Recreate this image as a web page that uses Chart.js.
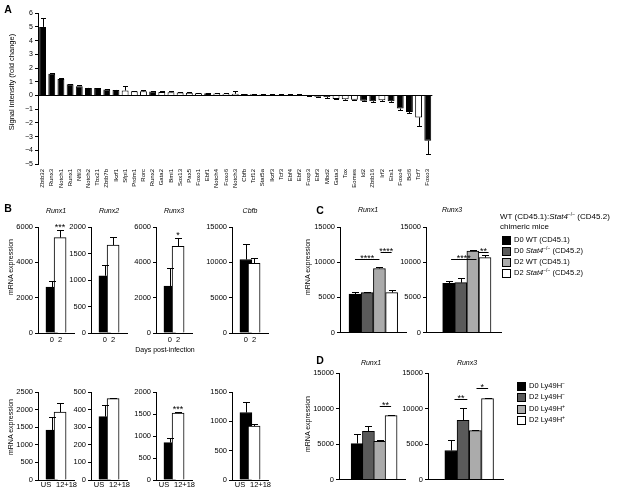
<!DOCTYPE html>
<html>
<head>
<meta charset="utf-8">
<script src="https://cdn.jsdelivr.net/npm/chart.js@4.4.0/dist/chart.umd.min.js"></script>
<style>
  body { margin: 0; width: 625px; height: 491px; position: relative; overflow: hidden; background: #fff;
         font-family: "Liberation Sans", Arial, sans-serif; color: #000; }
  canvas { position: absolute; }
  .t { position: absolute; white-space: nowrap; font-size: 7.5px; line-height: 1; }
  .c { transform: translate(-50%, -50%); }
  .r { transform: translate(-50%, -50%) rotate(-90deg); }
  .sw { position: absolute; width: 7px; height: 7px; border: 1px solid #000; }
  sup { font-size: 5px; vertical-align: 3px; line-height: 0; }
</style>
</head>
<body>
<script>
// ---- panel A: microarray fold change ----
const geneLabels = ['Zbtb32','Runx3','Notch1','Runx1','Nfil3','Notch2','Tbx21','Zbtb7b','Ikzf1','Sfpi1',
  'Prdm1','Rorc','Runx2','Gata2','Bmi1','Sox13','Pax5','Foxo1','Ebf1','Notch4','Foxo6','Notch3','Cbfb',
  'Tcf12','Stat5a','Ikzf3','Tcf3','Ebf4','Ebf2','Foxp3','Ebf3','Mbd2','Gata3','Tox','Eomes','Id2','Zbtb16',
  'Irf2','Ets1','Foxo4','Bcl6','Tcf7','Foxo3'];
const foldChange = [5.0,1.58,1.2,0.82,0.68,0.55,0.54,0.44,0.4,0.36,0.3,0.3,0.28,0.26,0.24,0.22,0.2,0.16,
  0.16,0.14,0.13,0.12,0.1,0.08,0.07,0.06,0.05,0.05,0.04,-0.03,-0.1,-0.12,-0.25,-0.28,-0.32,-0.38,-0.42,
  -0.35,-0.42,-0.95,-1.2,-1.6,-3.3];
const foldErr = [0.65,0.03,0.05,0.02,0.05,0.02,0.04,0.05,0.02,0.36,0.03,0.08,0.02,0.04,0.07,0.03,0.02,
  0.02,0.02,0.03,0.04,0.18,0.02,0.02,0.02,0.02,0.02,0.08,0.06,0.02,0.03,0.03,0.03,0.03,0.04,0.04,0.04,
  0.05,0.05,0.1,0.06,0.6,1.0];
const geneFilled = [1,1,1,1,1,1,1,1,1,0,0,0,1,0,0,0,0,0,1,0,0,0,1,0,0,0,0,0,0,1,1,1,0,0,0,1,1,0,1,1,1,0,1];
const foldTicks = [-5, 6, 1]; // min, max, step

// ---- panel B ----
const bGenes = ['Runx1','Runx2','Runx3','Cbfb'];
const dayLabels = ['0','2'];
const dayMean = [[2600,5400],[1080,1660],[2650,4900],[10400,9850]];
const dayErr = [[350,450],[200,150],[1050,450],[2200,800]];
const dayMax = [6000,2000,6000,15000];
const dayStep = [2000,500,2000,5000];
const dayStars = ['***','','*',''];
const stimLabels = ['US','12+18'];
const stimMean = [[1420,1930],[360,462],[850,1520],[1150,920]];
const stimErr = [[370,250],[65,5],[100,20],[180,40]];
const stimMax = [2500,500,2000,1500];
const stimStep = [500,100,500,500];
const stimStars = ['','','***',''];

// ---- panel C ----
const cdGenes = ['Runx1','Runx3'];
const chimeraGroups = ['D0 WT (CD45.1)','D0 <i>Stat4</i><sup>−/−</sup> (CD45.2)','D2 WT (CD45.1)','D2 <i>Stat4</i><sup>−/−</sup> (CD45.2)'];
const chimeraMean = [[5450,5670,9100,5680],[6980,7080,11580,10640]];
const chimeraErr = [[280,80,160,370],[330,610,190,330]];
const chimeraSig = [
  [{x0:0, x1:2, v:10500, label:'****'}, {x0:2.1, x1:3, v:11450, label:'****'}],
  [{x0:0.2, x1:2.3, v:10500, label:'****'}, {x0:2.45, x1:3.3, v:11400, label:'**'}]
];

// ---- panel D ----
const ly49Groups = ['D0 Ly49H<sup>−</sup>','D2 Ly49H<sup>−</sup>','D0 Ly49H<sup>+</sup>','D2 Ly49H<sup>+</sup>'];
const ly49Mean = [[5060,6800,5390,9000],[4080,8340,6890,11390]];
const ly49Err = [[1360,700,230,90],[1540,1740,140,90]];
const ly49Sig = [
  [{x0:2, x1:3, v:10300, label:'**'}],
  [{x0:0.3, x1:1.35, v:11350, label:'**'}, {x0:2.1, x1:3.05, v:12900, label:'*'}]
];
const groupShades = ['#000','#5a5a5a','#ababab','#fff'];

const FONT = '"Liberation Sans", Arial, sans-serif';
Chart.defaults.font.family = FONT;
Chart.defaults.font.size = 7.5;
Chart.defaults.color = '#000';
Chart.defaults.animation = false;
Chart.defaults.responsive = false;
Chart.defaults.events = [];
Chart.defaults.plugins.legend.display = false;
Chart.defaults.plugins.tooltip.enabled = false;

// one-sided error bars drawn from the bar end
const errBars = {
  id: 'errBars',
  afterDatasetsDraw(chart) {
    const ctx = chart.ctx, y = chart.scales.y;
    chart.data.datasets.forEach((ds, di) => {
      if (!ds.err) return;
      chart.getDatasetMeta(di).data.forEach((bar, i) => {
        const v = ds.vals[i], e = ds.err[i];
        if (!e) return;
        const end = Math.round(y.getPixelForValue(v >= 0 ? v + e : v - e)) + 0.5;
        const x = Math.round(bar.x) + 0.5, cap = ds.cap || 3;
        ctx.save();
        ctx.strokeStyle = '#000';
        ctx.lineWidth = 1;
        ctx.beginPath();
        ctx.moveTo(x, bar.y);
        ctx.lineTo(x, end);
        ctx.moveTo(x - cap, end);
        ctx.lineTo(x + cap, end);
        ctx.stroke();
        ctx.restore();
      });
    });
  }
};

// significance brackets / stars
const sigMarks = {
  id: 'sigMarks',
  afterDatasetsDraw(chart) {
    const ds = chart.data.datasets[0];
    if (!ds.sig) return;
    const {ctx, scales: {x, y}} = chart;
    ctx.save();
    ctx.strokeStyle = '#000';
    ctx.fillStyle = '#000';
    ctx.lineWidth = 1;
    ctx.font = '9px ' + FONT;
    ctx.textAlign = 'center';
    ctx.textBaseline = 'alphabetic';
    ds.sig.forEach(s => {
      const a = x.getPixelForValue(s.x0), b = x.getPixelForValue(s.x1);
      const py = Math.round(y.getPixelForValue(s.v)) + 0.5;
      if (s.line !== false) {
        ctx.beginPath();
        ctx.moveTo(a, py);
        ctx.lineTo(b, py);
        ctx.stroke();
        ctx.fillText(s.label, (a + b) / 2, py + 1.5);
      } else {
        ctx.fillText(s.label, (a + b) / 2, py - 1);
      }
    });
    ctx.restore();
  }
};

// canvas placed so that the chart area lands on x0..x1 / top..bottom
function frame(o) {
  const padT = o.padT ?? 6, padR = o.padR ?? 3, yw = o.yw ?? 30, xh = o.xh ?? 12;
  const c = document.createElement('canvas');
  c.width = o.x1 - o.x0 + yw + padR;
  c.height = o.bottom - o.top + padT + xh;
  c.style.left = (o.x0 - yw) + 'px';
  c.style.top = (o.top - padT) + 'px';
  document.body.appendChild(c);
  return {canvas: c, padT, padR, yw, xh};
}

function smallBars(f, o) {
  return new Chart(f.canvas, {
    type: 'bar',
    data: {
      datasets: [{
        data: o.vals.map((v, i) => ({x: i, y: v})),
        vals: o.vals, err: o.err, sig: o.sig, cap: 3.5,
        backgroundColor: o.colors, borderColor: '#000', borderWidth: 1, barThickness: 12
      }]
    },
    options: {
      layout: {padding: {top: f.padT, right: f.padR}},
      scales: {
        x: {
          type: 'linear', min: o.xmin, max: o.xmax,
          grid: {display: false, drawTicks: false}, border: {color: '#000'},
          ticks: {display: !!o.labels, autoSkip: false, maxRotation: 0, minRotation: 0, padding: 2,
                  callback: (v, i) => o.labels ? o.labels[i] : ''},
          afterBuildTicks: s => { s.ticks = o.vals.map((_, i) => ({value: i})); },
          afterFit: s => { s.height = f.xh; }
        },
        y: {
          min: 0, max: o.max,
          ticks: {stepSize: o.step, padding: 2, callback: v => String(v)},
          grid: {drawOnChartArea: false, tickColor: '#000', tickLength: 3},
          border: {color: '#000'},
          afterFit: s => { s.width = f.yw; }
        }
      }
    },
    plugins: [errBars, sigMarks]
  });
}

// ---- A ----
const fA = frame({x0: 38, x1: 437, top: 13, bottom: 164, yw: 30, xh: 42});
new Chart(fA.canvas, {
  type: 'bar',
  data: {
    labels: geneLabels,
    datasets: [{
      data: foldChange, vals: foldChange, err: foldErr, cap: 2.5,
      backgroundColor: geneFilled.map(g => g ? '#000' : '#fff'),
      borderColor: '#000', borderWidth: 1, barPercentage: 0.75, categoryPercentage: 1
    }]
  },
  options: {
    layout: {padding: {top: fA.padT, right: fA.padR}},
    scales: {
      x: {
        grid: {display: false, drawTicks: false}, border: {display: false},
        ticks: {autoSkip: false, minRotation: 90, maxRotation: 90, padding: 5, font: {size: 6}},
        afterFit: s => { s.height = fA.xh; }
      },
      y: {
        min: foldTicks[0], max: foldTicks[1],
        ticks: {stepSize: foldTicks[2], padding: 2, font: {size: 7}, callback: v => v < 0 ? '−' + (-v) : String(v)},
        grid: {color: c => (c.tick && c.tick.value === 0) ? '#000' : 'rgba(0,0,0,0)', tickColor: '#000', tickLength: 3},
        border: {color: '#000'},
        afterFit: s => { s.width = fA.yw; }
      }
    }
  },
  plugins: [errBars]
});

// ---- text helper ----
function txt(html, x, y, cls, css) {
  const d = document.createElement('div');
  d.className = 't ' + (cls || '');
  d.innerHTML = html;
  d.style.left = x + 'px';
  d.style.top = y + 'px';
  if (css) d.style.cssText += css;
  document.body.appendChild(d);
  return d;
}

// ---- B ----
const bAxisX = [38, 91, 156, 232];
bGenes.forEach((g, k) => {
  const top = frame({x0: bAxisX[k], x1: bAxisX[k] + 36, top: 227, bottom: 333, padT: 14});
  smallBars(top, {
    vals: dayMean[k], err: dayErr[k], colors: ['#000', '#fff'], labels: dayLabels,
    max: dayMax[k], step: dayStep[k], xmin: -0.6, xmax: 1.6,
    sig: dayStars[k] ? [{x0: 1, x1: 1, v: dayMean[k][1] + dayErr[k][1], label: dayStars[k], line: false}] : null
  });
  const bot = frame({x0: bAxisX[k], x1: bAxisX[k] + 36, top: 392, bottom: 480, padT: 14, xh: 11});
  smallBars(bot, {
    vals: stimMean[k], err: stimErr[k], colors: ['#000', '#fff'],
    max: stimMax[k], step: stimStep[k], xmin: -0.6, xmax: 1.6,
    sig: stimStars[k] ? [{x0: 1, x1: 1, v: stimMean[k][1] + stimErr[k][1], label: stimStars[k], line: false}] : null
  });
  // stimulation labels sit spread a little wider than the bars
  txt(stimLabels[0], bAxisX[k] + 8, 485, 'c');
  txt(stimLabels[1], bAxisX[k] + 28.5, 485, 'c');
});

// ---- C & D ----
const cBox = [{x0: 340, x1: 406, xmin: -0.55, xmax: 3.5}, {x0: 426, x1: 501, xmin: -1.1, xmax: 3.55}];
const dBox = [{x0: 339, x1: 405, xmin: -0.87, xmax: 3.5}, {x0: 428, x1: 503, xmin: -1.1, xmax: 3.5}];
cdGenes.forEach((g, k) => {
  const fc = frame({x0: cBox[k].x0, x1: cBox[k].x1, top: 227, bottom: 333, padT: 8, xh: 6});
  smallBars(fc, {
    vals: chimeraMean[k], err: chimeraErr[k], colors: groupShades, sig: chimeraSig[k],
    max: 15000, step: 5000, xmin: cBox[k].xmin, xmax: cBox[k].xmax
  });
  const fd = frame({x0: dBox[k].x0, x1: dBox[k].x1, top: 373, bottom: 480, padT: 8, xh: 6});
  smallBars(fd, {
    vals: ly49Mean[k], err: ly49Err[k], colors: groupShades, sig: ly49Sig[k],
    max: 15000, step: 5000, xmin: dBox[k].xmin, xmax: dBox[k].xmax
  });
});

// ---- text ----
const bold = 'font-weight:bold;font-size:10.5px;';
txt('A', 8, 9, 'c', bold);
txt('B', 8, 208, 'c', bold);
txt('C', 320, 210, 'c', bold);
txt('D', 320, 360, 'c', bold);

txt('Signal intensity (fold change)', 12, 82, 'r', 'font-size:7.5px;');
const bTitleX = [56, 109, 174, 250];
bGenes.forEach((g, k) => txt(g, bTitleX[k], 210, 'c', 'font-style:italic;font-size:7px;'));
txt('Days post-infection', 165, 349, 'c', 'font-size:7px;');
txt('mRNA expression', 10, 267, 'r', 'font-size:7px;');
txt('mRNA expression', 10, 427, 'r', 'font-size:7px;');
txt('mRNA expression', 307, 267, 'r', 'font-size:7px;');
txt('mRNA expression', 307, 424, 'r', 'font-size:7px;');
[368, 452].forEach((x, k) => txt(cdGenes[k], x, 209, 'c', 'font-style:italic;font-size:7px;'));
[371, 467].forEach((x, k) => txt(cdGenes[k], x, 362, 'c', 'font-style:italic;font-size:7px;'));

// legends
txt('WT (CD45.1):<i>Stat4</i><sup>−/−</sup> (CD45.2)', 500, 213, '', 'font-size:8px;');
txt('chimeric mice', 500, 223, '', 'font-size:8px;');
function legend(items, x, y0, dy) {
  items.forEach((lab, i) => {
    const y = y0 + i * dy;
    const s = document.createElement('div');
    s.className = 'sw';
    s.style.left = x + 'px';
    s.style.top = (y - 4) + 'px';
    s.style.background = groupShades[i];
    document.body.appendChild(s);
    txt(lab, x + 12, y - 4, '', 'font-size:7.5px;');
  });
}
legend(chimeraGroups, 502, 240, 11);
legend(ly49Groups, 517, 386, 11.3);
</script>
</body>
</html>
